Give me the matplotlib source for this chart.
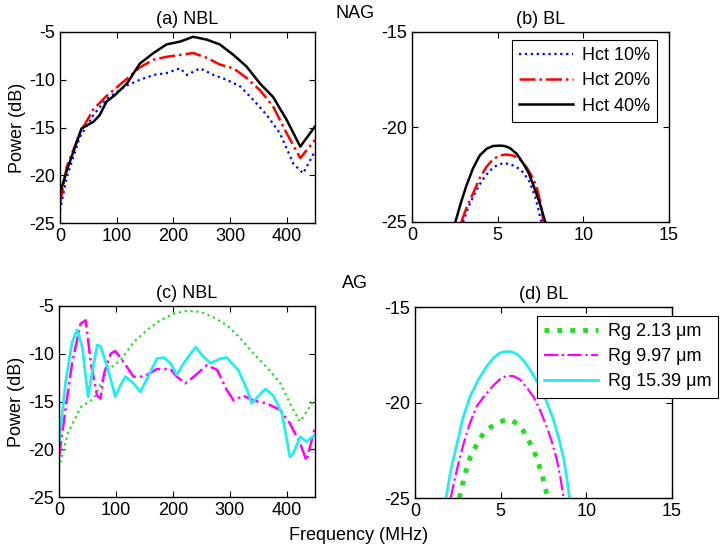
import matplotlib
matplotlib.use("Agg")
import matplotlib.pyplot as plt

plt.rcParams['font.family'] = ['Liberation Sans', 'DejaVu Sans']
plt.rcParams['font.size'] = 13
plt.rcParams['axes.unicode_minus'] = False

# (a) NBL, NAG
fa = [0, 12, 38, 59, 70, 82, 97, 118, 141, 165, 188, 212, 235, 259, 282, 306, 329, 353, 376, 400, 424, 450]
a_h40 = [-21.9, -19.5, -15.1, -14.4, -13.7, -12.3, -11.6, -10.4, -8.3, -7.2, -6.3, -6.0, -5.5, -5.8, -6.3, -7.4, -8.6, -10.4, -11.8, -14.2, -17.0, -14.9]
fa2 = [0, 12, 35, 59, 82, 118, 141, 165, 188, 212, 235, 259, 282, 306, 329, 353, 376, 400, 424, 450]
a_h20 = [-23.0, -19.1, -15.6, -13.1, -11.7, -9.9, -8.7, -7.9, -7.6, -7.4, -7.2, -7.7, -8.4, -8.8, -9.8, -11.1, -12.8, -15.6, -18.2, -16.3]
fa3 = [0, 12, 35, 59, 82, 118, 141, 165, 188, 212, 224, 247, 271, 294, 318, 341, 365, 388, 412, 429, 450]
a_h10 = [-23.7, -20.2, -16.0, -13.7, -12.0, -10.6, -10.0, -9.5, -9.3, -8.8, -9.5, -8.8, -9.5, -10.0, -10.7, -12.1, -13.7, -15.6, -18.8, -19.8, -17.5]

# (b) BL, NAG
fb40 = [2.53, 2.85, 3.17, 3.55, 3.95, 4.35, 4.73, 5.12, 5.4, 5.7, 6.1, 6.48, 6.8, 7.06, 7.45, 7.78]
b_h40 = [-25, -24.0, -23.1, -22.2, -21.5, -21.15, -21.0, -20.98, -21.0, -21.1, -21.4, -21.9, -22.4, -23.0, -24.0, -25]
fb20 = [2.88, 3.2, 3.56, 3.95, 4.34, 4.73, 5.12, 5.5, 5.9, 6.3, 6.67, 7.0, 7.26, 7.5, 7.68]
b_h20 = [-25, -24.2, -23.5, -22.7, -22.1, -21.7, -21.5, -21.45, -21.5, -21.7, -22.1, -22.6, -23.1, -24.0, -25]
fb10 = [2.98, 3.3, 3.66, 4.1, 4.53, 4.9, 5.31, 5.7, 6.1, 6.5, 6.87, 7.2, 7.55]
b_h10 = [-25, -24.2, -23.5, -22.8, -22.3, -22.05, -21.9, -21.95, -22.1, -22.4, -22.9, -23.7, -25]

# (c) NBL, AG
fc_g = [0, 15, 38, 61, 85, 108, 131, 155, 178, 202, 225, 248, 272, 295, 319, 342, 365, 389, 412, 424, 450]
c_rg2 = [-22.0, -18.4, -15.6, -14.7, -11.7, -10.7, -8.8, -7.5, -6.5, -5.8, -5.5, -5.6, -6.2, -7.0, -8.4, -10.0, -11.4, -13.1, -15.9, -17.1, -14.7]
fc_m = [0, 12, 23, 38, 47, 56, 67, 73, 79, 91, 99, 114, 131, 149, 172, 196, 207, 222, 237, 260, 278, 295, 307, 324, 342, 365, 389, 406, 424, 435, 450]
c_rg9 = [-20.8, -15.6, -11.0, -6.85, -6.5, -11.0, -14.4, -14.7, -12.1, -10.0, -9.7, -10.9, -12.4, -12.4, -11.6, -11.6, -12.4, -13.1, -12.4, -11.2, -11.7, -13.8, -14.9, -14.4, -14.9, -15.2, -15.9, -17.3, -19.4, -21.2, -17.7]
fc_c = [0, 12, 23, 32, 41, 51, 58, 67, 73, 85, 99, 108, 117, 131, 143, 155, 172, 184, 196, 207, 219, 240, 254, 266, 284, 295, 316, 330, 339, 354, 363, 377, 392, 406, 412, 424, 435, 450]
c_rg15 = [-19.4, -12.8, -8.8, -7.5, -9.3, -14.5, -12.1, -9.1, -9.2, -11.4, -14.5, -13.3, -12.4, -13.1, -14.0, -12.6, -10.5, -10.4, -11.0, -12.2, -11.0, -9.3, -10.3, -11.0, -10.5, -10.4, -11.8, -13.7, -15.2, -14.2, -13.7, -14.4, -16.3, -20.8, -20.4, -18.7, -19.2, -18.5]

# (d) BL, AG
fd15 = [1.81, 2.1, 2.44, 2.8, 3.21, 3.7, 4.19, 4.6, 4.97, 5.3, 5.65, 6.0, 6.33, 6.8, 7.31, 7.7, 8.08, 8.4, 8.67, 8.85, 9.02]
d_rg15 = [-25, -23.5, -22.2, -20.8, -19.7, -18.8, -18.1, -17.65, -17.4, -17.33, -17.35, -17.5, -17.8, -18.4, -19.2, -20.0, -20.9, -21.9, -22.9, -23.9, -25]
fd9 = [2.08, 2.45, 2.82, 3.2, 3.6, 4.1, 4.58, 5.0, 5.36, 5.75, 6.14, 6.5, 6.92, 7.3, 7.7, 8.0, 8.28, 8.5, 8.67]
d_rg9 = [-25, -23.5, -22.2, -21.1, -20.2, -19.6, -19.1, -18.75, -18.6, -18.62, -18.8, -19.2, -19.7, -20.4, -21.3, -22.1, -23.0, -24.0, -25]
fd2 = [2.59, 2.9, 3.21, 3.6, 4.0, 4.4, 4.77, 5.15, 5.55, 5.95, 6.33, 6.7, 7.11, 7.45, 7.75]
d_rg2 = [-25, -23.8, -22.9, -22.2, -21.6, -21.3, -21.1, -20.95, -20.9, -21.1, -21.5, -22.1, -22.9, -23.9, -25]

W, H = 720.0, 548.0
fig = plt.figure(figsize=(7.2, 5.48), dpi=100)

def make_ax(l, t, r, b):
    ax = fig.add_axes([l / W, 1 - b / H, (r - l) / W, (b - t) / H])
    ax.tick_params(direction='in', top=True, right=True, length=4, labelsize=13)
    for s in ax.spines.values():
        s.set_linewidth(1.0)
    return ax

axa = make_ax(60, 32, 315, 223)
axa.plot(fa3, a_h10, color='#0000ff', ls=':', lw=1.6)
axa.plot(fa2, a_h20, color='#ff0000', ls='-.', lw=1.8)
axa.plot(fa, a_h40, color='black', ls='-', lw=1.8)
axa.set_xlim(0, 450)
axa.set_ylim(-25, -5)
axa.set_xticks([0, 100, 200, 300, 400])
axa.set_yticks([-25, -20, -15, -10, -5])
axa.set_title('(a) NBL', fontsize=13, pad=6)
axa.set_ylabel('Power (dB)', fontsize=13, labelpad=2)

axb = make_ax(412, 32, 669, 222)
axb.plot(fb10, b_h10, color='#0000ff', ls=':', lw=1.6, label='Hct 10%')
axb.plot(fb20, b_h20, color='#ff0000', ls='-.', lw=1.8, label='Hct 20%')
axb.plot(fb40, b_h40, color='black', ls='-', lw=1.8, label='Hct 40%')
axb.set_xlim(0, 15)
axb.set_ylim(-25, -15)
axb.set_xticks([0, 5, 10, 15])
axb.set_yticks([-25, -20, -15])
axb.set_title('(b) BL', fontsize=13, pad=6)
lg = axb.legend(loc='upper right', bbox_to_anchor=(0.99, 1.005), fancybox=False,
                edgecolor='black', framealpha=1, handlelength=3.0, fontsize=13,
                borderpad=0.4, labelspacing=0.45, handletextpad=0.5)
lg.get_frame().set_linewidth(0.8)

axc = make_ax(59, 306, 315, 497)
axc.plot(fc_g, c_rg2, color='#22dd22', ls=':', lw=1.6)
axc.plot(fc_m, c_rg9, color='#ff00ff', ls='-.', lw=1.8)
axc.plot(fc_c, c_rg15, color='#22eeee', ls='-', lw=2.0)
axc.set_xlim(0, 450)
axc.set_ylim(-25, -5)
axc.set_xticks([0, 100, 200, 300, 400])
axc.set_yticks([-25, -20, -15, -10, -5])
axc.set_title('(c) NBL', fontsize=13, pad=6)
axc.set_ylabel('Power (dB)', fontsize=13, labelpad=2)

axd = make_ax(415, 307, 672, 498)
axd.plot(fd2, d_rg2, color='#22dd22', ls=':', lw=3.5, label='Rg 2.13 μm')
axd.plot(fd9, d_rg9, color='#ff00ff', ls='-.', lw=1.6, label='Rg 9.97 μm')
axd.plot(fd15, d_rg15, color='#22eeee', ls='-', lw=2.0, label='Rg 15.39 μm')
axd.set_xlim(0, 15)
axd.set_ylim(-25, -15)
axd.set_xticks([0, 5, 10, 15])
axd.set_yticks([-25, -20, -15])
axd.set_title('(d) BL', fontsize=13, pad=6)
lg2 = axd.legend(loc='upper left', bbox_to_anchor=(0.44, 1.0), fancybox=False,
                 edgecolor='black', framealpha=1, handlelength=3.0, fontsize=13,
                 borderpad=0.4, labelspacing=0.45, handletextpad=0.5)
lg2.get_frame().set_linewidth(0.8)

fig.text(355 / W, 1 - 13 / H, 'NAG', ha='center', va='center', fontsize=13)
fig.text(355 / W, 1 - 284 / H, 'AG', ha='center', va='center', fontsize=13)
fig.text(359 / W, 1 - 536 / H, 'Frequency (MHz)', ha='center', va='center', fontsize=13)

fig.savefig('out.png', dpi=100)
